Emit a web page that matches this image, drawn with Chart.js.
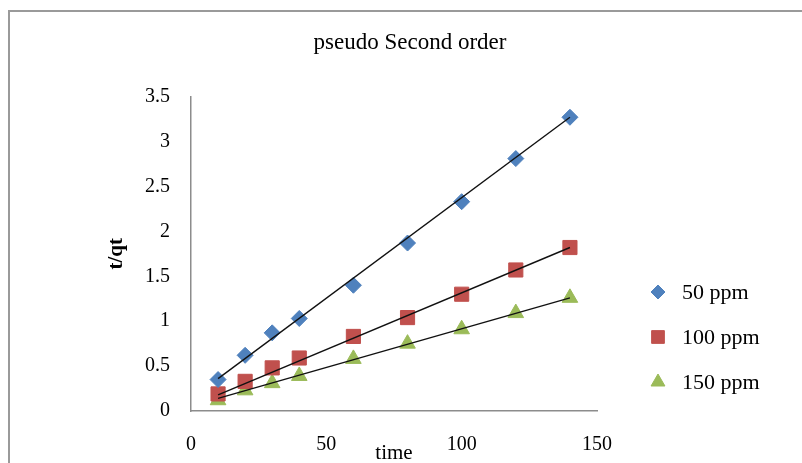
<!DOCTYPE html>
<html>
<head>
<meta charset="utf-8">
<script src="https://cdn.jsdelivr.net/npm/chart.js@4.4.0/dist/chart.umd.min.js"></script>
<style>
  html, body { margin: 0; padding: 0; background: #fff; }
</style>
</head>
<body>
<canvas id="kinetics" width="802" height="463"></canvas>
<script>
const timeMin = [10, 20, 30, 40, 60, 80, 100, 120, 140];
const ppm50  = [0.35, 0.62, 0.87, 1.03, 1.40, 1.87, 2.33, 2.81, 3.27];
const ppm100 = [0.19, 0.33, 0.48, 0.59, 0.83, 1.04, 1.30, 1.57, 1.82];
const ppm150 = [0.12, 0.23, 0.31, 0.39, 0.58, 0.75, 0.91, 1.09, 1.26];
// linear trend lines, ends at t = 10 and t = 140
const fitX   = [10, 140];
const fit50  = [0.36, 3.27];
const fit100 = [0.18, 1.82];
const fit150 = [0.14, 1.26];
const seriesNames = ['50 ppm', '100 ppm', '150 ppm'];
const xTicks = [0, 50, 100, 150];
const yTicks = [0, 0.5, 1, 1.5, 2, 2.5, 3, 3.5];

const serif = "'Liberation Serif', 'Times New Roman', serif";

function pts(xs, ys) {
  return xs.map((x, i) => ({ x: x, y: ys[i] }));
}

function markerSet(label, ys, color, style, radius) {
  return {
    label: label,
    data: pts(timeMin, ys),
    showLine: false,
    pointStyle: style,
    pointRadius: radius,
    backgroundColor: color,
    borderColor: color,
    borderWidth: 1,
    order: 1
  };
}

function fitSet(ys) {
  return {
    label: '',
    data: pts(fitX, ys),
    showLine: true,
    borderColor: '#111',
    borderWidth: 1.4,
    pointRadius: 0,
    order: 0
  };
}

// grey frame round the chart, cut by the picture edge on the right and bottom
const framePlugin = {
  id: 'frame',
  beforeDraw(chart) {
    const ctx = chart.ctx;
    ctx.save();
    ctx.fillStyle = '#fff';
    ctx.fillRect(0, 0, chart.width, chart.height);
    ctx.strokeStyle = '#9a9a9a';
    ctx.lineWidth = 2;
    ctx.beginPath();
    ctx.moveTo(9, chart.height);
    ctx.lineTo(9, 11);
    ctx.lineTo(chart.width, 11);
    ctx.stroke();
    ctx.restore();
  }
};

// legend on the right, like excel's
const sideLegend = {
  id: 'sideLegend',
  afterDraw(chart) {
    const ctx = chart.ctx;
    const rows = [292, 337, 382];
    ctx.save();
    ctx.font = '22px ' + serif;
    ctx.textBaseline = 'middle';
    seriesNames.forEach((name, i) => {
      const ds = chart.data.datasets[i];
      ctx.fillStyle = ds.backgroundColor;
      ctx.strokeStyle = ds.borderColor;
      ctx.lineWidth = 1;
      Chart.helpers.drawPoint(ctx, { pointStyle: ds.pointStyle, radius: ds.pointRadius - 1, rotation: 0, borderWidth: 1 }, 658, rows[i]);
      ctx.fillStyle = '#000';
      ctx.fillText(name, 682, rows[i] + 1);
    });
    ctx.restore();
  }
};

new Chart(document.getElementById('kinetics'), {
  type: 'scatter',
  data: {
    datasets: [
      markerSet(seriesNames[0], ppm50, '#4F81BD', 'rectRot', 8),
      markerSet(seriesNames[1], ppm100, '#C0504D', 'rect', 10),
      markerSet(seriesNames[2], ppm150, '#9BBB59', 'triangle', 9),
      fitSet(fit50),
      fitSet(fit100),
      fitSet(fit150)
    ]
  },
  options: {
    responsive: false,
    animation: false,
    devicePixelRatio: 1,
    layout: { padding: { left: 18, top: 0, right: 0, bottom: 0 } },
    plugins: {
      legend: { display: false },
      tooltip: { enabled: false },
      title: {
        display: true,
        text: 'pseudo Second order',
        color: '#000',
        font: { family: serif, size: 23, weight: 'normal' },
        padding: { top: 29, bottom: 40 }
      }
    },
    scales: {
      x: {
        type: 'linear',
        min: 0,
        max: 150,
        afterBuildTicks: s => { s.ticks = xTicks.map(v => ({ value: v })); },
        afterFit: s => { s.height = 52; },
        grid: { display: false },
        border: { display: true, color: '#8c8c8c', width: 1.5 },
        ticks: { color: '#000', padding: 14, font: { family: serif, size: 20 }, callback: v => String(v) },
        title: {
          display: true,
          text: 'time',
          color: '#000',
          font: { family: serif, size: 21 },
          padding: { top: 0, bottom: -3 }
        }
      },
      y: {
        min: 0,
        max: 3.5,
        afterBuildTicks: s => { s.ticks = yTicks.map(v => ({ value: v })); },
        afterFit: s => { s.width = 173; },
        grid: { display: false },
        border: { display: true, color: '#8c8c8c', width: 1.5 },
        ticks: { color: '#000', padding: 13, font: { family: serif, size: 20 }, callback: v => String(v) },
        title: {
          display: true,
          text: 't/qt',
          color: '#000',
          font: { family: serif, size: 21, weight: 'bold' },
          padding: { top: 86, bottom: 0 }
        }
      },
      // empty axis that keeps the right-hand room for the legend
      side: {
        type: 'linear',
        position: 'right',
        display: true,
        afterFit: s => { s.width = 205; },
        grid: { display: false },
        border: { display: false },
        ticks: { display: false }
      }
    }
  },
  plugins: [framePlugin, sideLegend]
});
</script>
</body>
</html>
